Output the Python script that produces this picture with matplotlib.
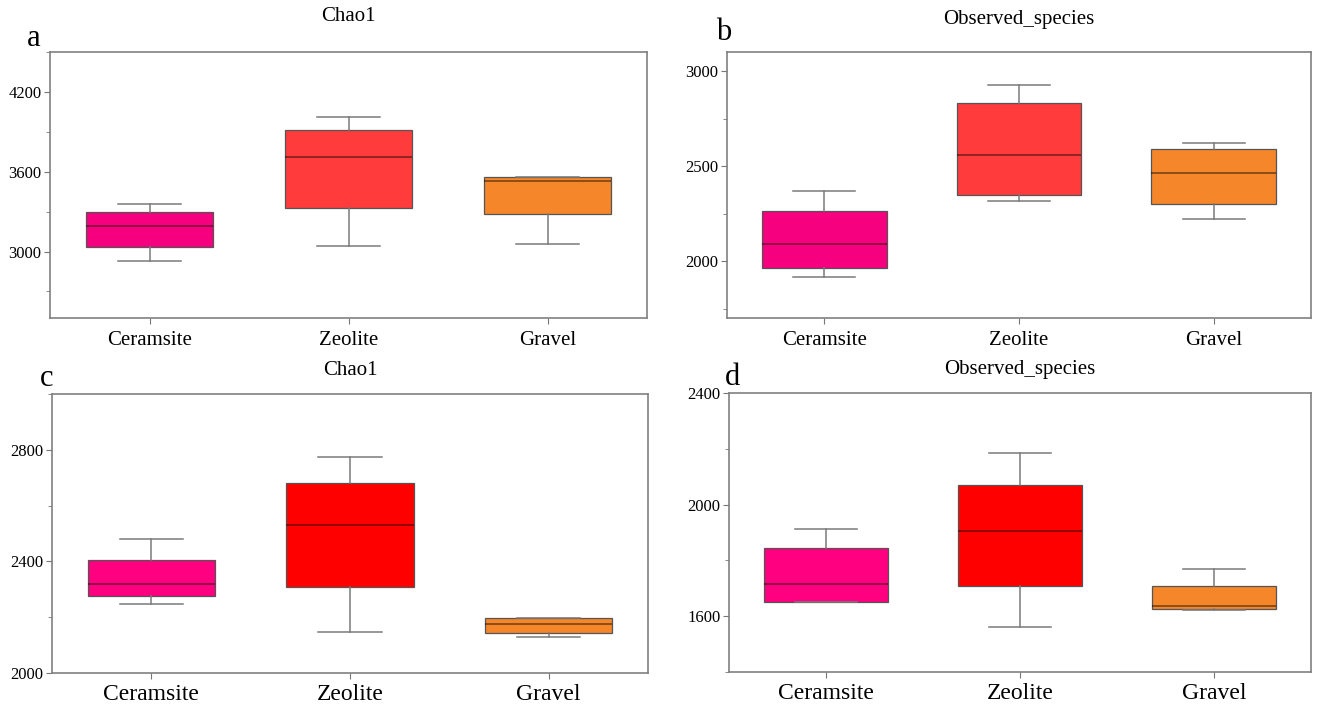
import matplotlib.pyplot as plt
from matplotlib.ticker import MultipleLocator

plt.rcParams["font.family"] = ["Liberation Serif", "DejaVu Serif"]

CATEGORIES = ["Ceramsite", "Zeolite", "Gravel"]

# five-number summaries per category: [whisker low, q1, median, q3, whisker high]
CHAO1_A = [[2930, 3037, 3192, 3300, 3357],
           [3045, 3325, 3707, 3912, 4015],
           [3057, 3282, 3530, 3557, 3560]]
OBS_B = [[1914, 1965, 2088, 2265, 2369],
         [2318, 2348, 2560, 2830, 2925],
         [2222, 2302, 2465, 2587, 2619]]
CHAO1_C = [[2248, 2276, 2318, 2404, 2480],
           [2146, 2310, 2529, 2680, 2775],
           [2130, 2142, 2174, 2197, 2198]]
OBS_D = [[1650, 1650, 1715, 1844, 1913],
         [1562, 1710, 1904, 2069, 2185],
         [1624, 1627, 1638, 1707, 1770]]

COLORS_TOP = ["#F7007F", "#FF3B3B", "#F5872A"]
COLORS_BOT = ["#FF0080", "#FF0000", "#F5872A"]

W, H = 1317, 706
fig = plt.figure(figsize=(W / 100, H / 100), dpi=100)


def px_axes(left, top, right, bottom):
    return fig.add_axes([left / W, 1 - bottom / H, (right - left) / W, (bottom - top) / H])


def draw(ax, summ, colors, ylim, major, title, tpad, letter, xfs, xpad):
    stats = []
    for name, (lo, q1, med, q3, hi) in zip(CATEGORIES, summ):
        stats.append(dict(label=name, whislo=lo, q1=q1, med=med, q3=q3, whishi=hi, fliers=[]))
    bp = ax.bxp(stats, positions=[1, 2, 3], widths=0.64, patch_artist=True,
                boxprops=dict(edgecolor="#555555", linewidth=0.9),
                medianprops=dict(color="black", alpha=0.5, linewidth=1.2),
                whiskerprops=dict(color="#7a7a7a", linewidth=1.1),
                capprops=dict(color="#7a7a7a", linewidth=1.1))
    for patch, c in zip(bp["boxes"], colors):
        patch.set_facecolor(c)
    ax.set_xlim(0.5, 3.5)
    ax.set_ylim(*ylim)
    ax.yaxis.set_major_locator(MultipleLocator(major))
    ax.yaxis.set_minor_locator(MultipleLocator(major / 2))
    ax.set_xticks([1, 2, 3])
    ax.set_xticklabels(CATEGORIES, fontsize=xfs)
    ax.tick_params(axis="y", labelsize=12, length=4, color="#777777", pad=2)
    ax.tick_params(axis="y", which="minor", length=3, color="#777777")
    ax.tick_params(axis="x", length=4, color="#777777", pad=xpad)
    for s in ax.spines.values():
        s.set_color("#808080")
        s.set_linewidth(1.2)
    ax.set_title(title, fontsize=15, pad=tpad)
    ax.text(*letter[:2], letter[2], transform=fig.transFigure, fontsize=22,
            ha="left", va="center")


ax_a = px_axes(50, 52, 647, 318)
draw(ax_a, CHAO1_A, COLORS_TOP, (2500, 4500), 600, "Chao1", 22,
     (27 / W, 1 - 38 / H, "a"), 15, 5)
ax_b = px_axes(727, 52, 1311, 318)
draw(ax_b, OBS_B, COLORS_TOP, (1700, 3100), 500, "Observed_species", 20,
     (716 / W, 1 - 33 / H, "b"), 15, 5)
ax_c = px_axes(52, 394, 648, 673)
draw(ax_c, CHAO1_C, COLORS_BOT, (2000, 3000), 400, "Chao1", 14,
     (40 / W, 1 - 378 / H, "c"), 17, 4)
ax_d = px_axes(729, 393, 1311, 672)
draw(ax_d, OBS_D, COLORS_BOT, (1400, 2400), 400, "Observed_species", 14,
     (725 / W, 1 - 377 / H, "d"), 17, 4)

fig.savefig("out.png", dpi=100)
